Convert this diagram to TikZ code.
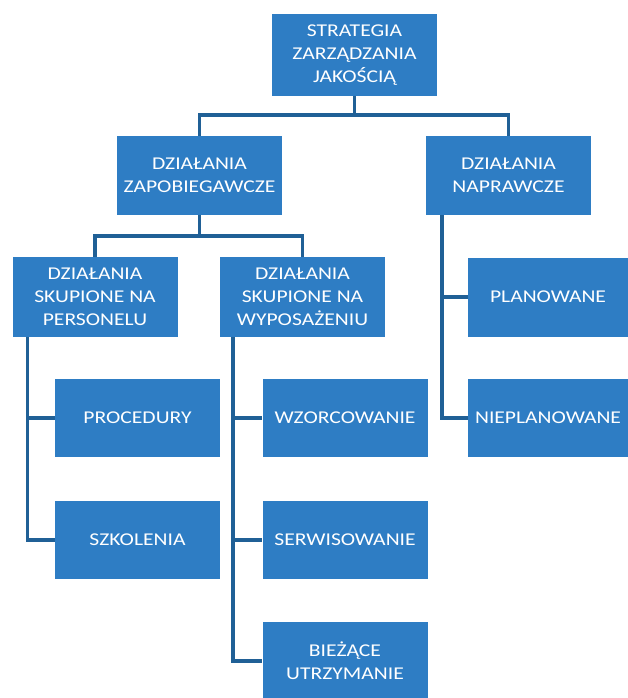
\documentclass[tikz,border=0pt]{standalone}
\usepackage{fontspec}
\newfontfamily\boxfont{Carlito}[FakeStretch=1.2]
\usetikzlibrary{positioning}
\definecolor{boxblue}{RGB}{46,125,196}
\definecolor{lineblue}{RGB}{32,96,150}

\begin{document}
\begin{tikzpicture}[
  x=1pt,
  y=-1pt,
  block/.style={
    fill=boxblue,
    text=white,
    align=center,
    inner sep=2pt,
    minimum width=165pt,
    minimum height=79pt,
    font=\boxfont\fontsize{18}{23}\selectfont
  },
  link/.style={draw=lineblue, line width=3.6pt}
]
\useasboundingbox (0,0) rectangle (628,698);

\node[block, minimum height=82pt] (strategia) at (354.5,55) {STRATEGIA\\ZARZĄDZANIA\\JAKOŚCIĄ};

\node[block] (zapob) at (199.5,175.5) {DZIAŁANIA\\ZAPOBIEGAWCZE};
\node[block] (napraw) at (508.5,175.5) {DZIAŁANIA\\NAPRAWCZE};

\node[block, minimum height=80pt] (personel) at (95,297) {DZIAŁANIA\\SKUPIONE NA\\PERSONELU};
\node[block, minimum height=80pt] (wyposaz) at (302.5,297) {DZIAŁANIA\\SKUPIONE NA\\WYPOSAŻENIU};
\node[block, minimum width=160pt] (plan) at (548,297) {PLANOWANE};

\node[block, minimum height=78pt] (procedury) at (137.5,418) {PROCEDURY};
\node[block, minimum height=78pt] (wzorcow) at (345,418) {WZORCOWANIE};
\node[block, minimum width=160pt, minimum height=78pt] (nieplan) at (548,418) {NIEPLANOWANE};

\node[block, minimum height=78pt] (szkolenia) at (137.5,540) {SZKOLENIA};
\node[block, minimum height=78pt] (serwis) at (345,540) {SERWISOWANIE};
\node[block, minimum height=78pt] (biezace) at (345,661) {BIEŻĄCE\\UTRZYMANIE};

% top level
\coordinate (top bus) at (354.5,115);
\draw[link] (strategia) -- (top bus);
\draw[link] (zapob.north) |- (top bus) -| (napraw.north);

% zapobiegawcze
\coordinate (zap bus) at (199.5,236);
\draw[link] (zapob) -- (zap bus);
\draw[link] (personel.north) |- (zap bus) -| (wyposaz.north);

% personel
\coordinate (pers rail) at ([xshift=15pt]personel.south west);
\draw[link] (pers rail) |- (szkolenia.west);
\draw[link] (pers rail |- procedury.west) -- (procedury.west);

% wyposazenie
\coordinate (wyp rail) at ([xshift=13pt]wyposaz.south west);
\draw[link] (wyp rail) |- (biezace.west);
\draw[link] (wyp rail |- wzorcow.west) -- (wzorcow.west);
\draw[link] (wyp rail |- serwis.west) -- (serwis.west);

% naprawcze
\coordinate (nap rail) at ([xshift=16pt]napraw.south west);
\draw[link] (nap rail) |- (nieplan.west);
\draw[link] (nap rail |- plan.west) -- (plan.west);
\end{tikzpicture}
\end{document}
